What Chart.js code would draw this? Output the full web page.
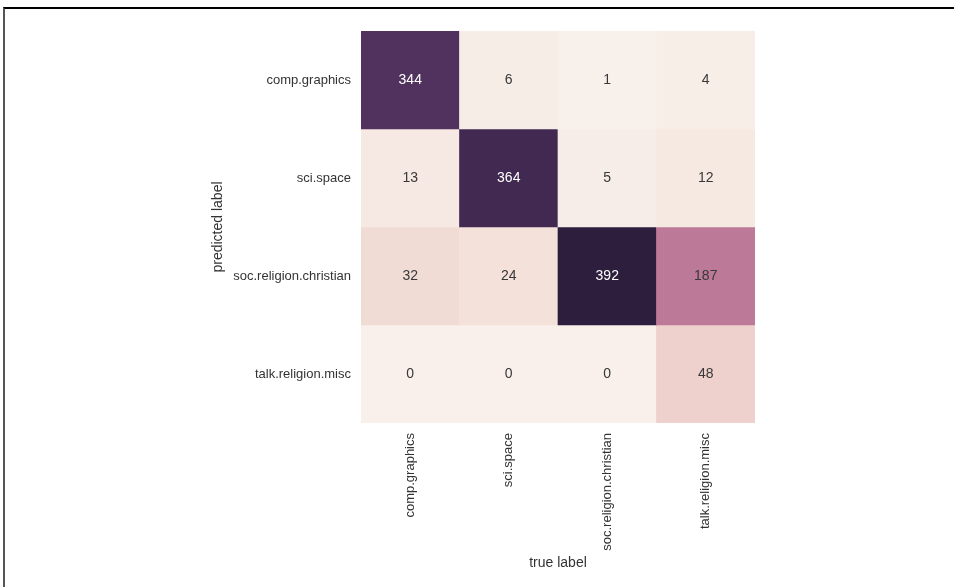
<!DOCTYPE html>
<html><head><meta charset="utf-8">
<script src="https://cdn.jsdelivr.net/npm/chart.js@4"></script>
<style>
html,body{margin:0;padding:0;background:#fff;}
#wrap{position:relative;width:954px;height:587px;overflow:hidden;}
canvas{position:absolute;left:0;top:0;}
#frame{position:absolute;left:3px;top:7px;right:-5px;bottom:-5px;border-top:2px solid #000;border-left:2px solid #555;pointer-events:none;}
</style></head><body>
<div id="wrap"><canvas id="c" width="954" height="587"></canvas><div id="frame"></div></div>
<script>
// Columns: true label; rows: predicted label
const trueLabels = ['comp.graphics', 'sci.space', 'soc.religion.christian', 'talk.religion.misc'];
const predictedLabels = ['comp.graphics', 'sci.space', 'soc.religion.christian', 'talk.religion.misc'];
const rowCompGraphics = [344, 6, 1, 4];
const rowSciSpace = [13, 364, 5, 12];
const rowSocReligionChristian = [32, 24, 392, 187];
const rowTalkReligionMisc = [0, 0, 0, 48];
const rows = [rowCompGraphics, rowSciSpace, rowSocReligionChristian, rowTalkReligionMisc];

const FONT = "'Liberation Sans', Arial, Helvetica, sans-serif";
const allVals = rows.flat();
const vmin = Math.min(...allVals), vmax = Math.max(...allVals);

// seaborn cubehelix_palette(light=.95, dark=.15, start=0, rot=.4, hue=.8)
function cubehelix(x) {
  const start = 0, rot = 0.4, gamma = 1, hue = 0.8;
  const xg = Math.pow(x, gamma);
  const a = hue * xg * (1 - xg) / 2;
  const phi = 2 * Math.PI * (start / 3 + rot * x);
  const f = (p0, p1) => Math.min(1, Math.max(0, xg + a * (p0 * Math.cos(phi) + p1 * Math.sin(phi))));
  return [f(-0.14861, 1.78277), f(-0.29227, -0.90649), f(1.97294, 0)];
}
function rgbFor(v) {
  const t = (v - vmin) / (vmax - vmin);
  const x = 0.95 + (0.15 - 0.95) * t;
  return cubehelix(x);
}
function cssFor(v) {
  const c = rgbFor(v).map(u => Math.round(u * 255));
  return `rgb(${c[0]},${c[1]},${c[2]})`;
}
function lum(v) {
  const c = rgbFor(v).map(u => u <= 0.03928 ? u / 12.92 : Math.pow((u + 0.055) / 1.055, 2.4));
  return 0.2126 * c[0] + 0.7152 * c[1] + 0.0722 * c[2];
}

const datasets = rows.map((vals, r) => ({
  label: predictedLabels[r],
  data: vals.map(() => [r, r + 1]),
  cellValues: vals,
  backgroundColor: vals.map(cssFor),
  borderWidth: 0,
  grouped: false,
  barPercentage: 1,
  categoryPercentage: 1
}));

const annotate = {
  id: 'annotate',
  afterDatasetsDraw(chart) {
    const ctx = chart.ctx;
    ctx.save();
    ctx.font = `14px ${FONT}`;
    ctx.textAlign = 'center';
    ctx.textBaseline = 'middle';
    chart.data.datasets.forEach((ds, di) => {
      const meta = chart.getDatasetMeta(di);
      meta.data.forEach((el, i) => {
        const v = ds.cellValues[i];
        ctx.fillStyle = lum(v) < 0.2 ? '#ffffff' : '#383838';
        ctx.fillText(String(v), el.x, (el.y + el.base) / 2);
      });
    });
    ctx.restore();
  }
};

new Chart(document.getElementById('c'), {
  type: 'bar',
  data: { labels: trueLabels, datasets },
  options: {
    responsive: false,
    animation: false,
    events: [],
    layout: { padding: { left: 210, top: 31, right: 199, bottom: 15 } },
    plugins: { legend: { display: false }, tooltip: { enabled: false } },
    scales: {
      x: {
        type: 'category',
        grid: { display: false, drawTicks: false },
        border: { display: false },
        ticks: { minRotation: 90, maxRotation: 90, padding: 10, color: '#333', font: { family: FONT, size: 13 } },
        title: { display: true, text: 'true label', color: '#333', font: { family: FONT, size: 14 }, padding: 0 },
        afterFit(s) { s.height = 149; }
      },
      y: {
        type: 'linear',
        min: 0, max: 4, reverse: true,
        grid: { display: false, drawTicks: false },
        border: { display: false },
        afterBuildTicks(s) { s.ticks = predictedLabels.map((_, i) => ({ value: i + 0.5 })); },
        ticks: {
          padding: 10, color: '#333', font: { family: FONT, size: 13 },
          callback: (v) => predictedLabels[Math.floor(v)]
        },
        title: { display: true, text: 'predicted label', color: '#333', font: { family: FONT, size: 14 }, padding: 0 },
        afterFit(s) { s.width = 151; }
      }
    }
  },
  plugins: [annotate]
});
</script>
</body></html>
